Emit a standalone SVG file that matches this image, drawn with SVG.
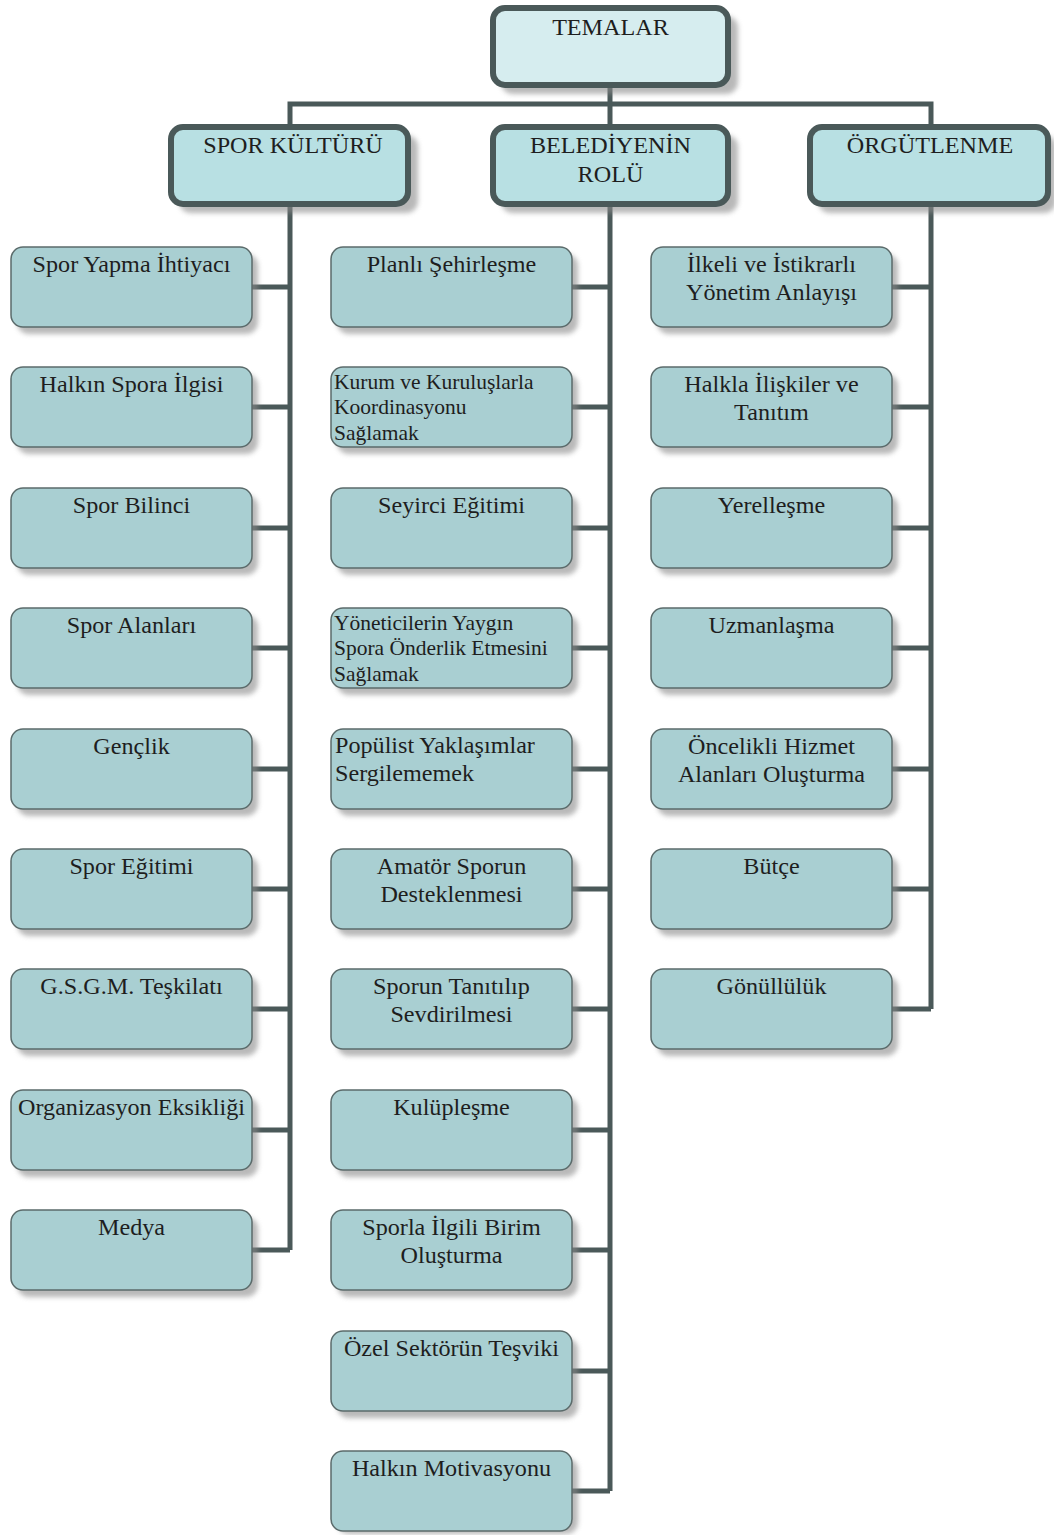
<svg xmlns="http://www.w3.org/2000/svg" width="1054" height="1535" viewBox="0 0 1054 1535">
<style>
.t{font-family:"Liberation Serif","Times New Roman",serif;font-size:23px;fill:#1e1e1e;text-anchor:middle;transform-box:fill-box;transform-origin:center;transform:scaleX(1.05)}
.l{text-anchor:start;transform-origin:left center}
.s{font-size:20.5px}
.box{fill:#a9cfd2;stroke:#5b6b6b;stroke-width:1.5}
.hdr{fill:#b8e0e3;stroke:#4a5959;stroke-width:6}
.top{fill:#d6edef;stroke:#4a5959;stroke-width:6}
.sh{fill:#8a8a8a;opacity:0.6;filter:url(#blur)}
.c{fill:none;stroke:#4a5959;stroke-width:5}
</style>
<defs>
<filter id="blur" x="-10%" y="-20%" width="120%" height="140%"><feGaussianBlur stdDeviation="2.5"/></filter>
</defs>
<rect width="1054" height="1535" fill="#ffffff"/>
<g id="connectors">
<path class="c" d="M610,86 V127 M290,127 V104 H931 V127"/>
<path class="c" d="M290,204 V1250 M610,204 V1491 M931,204 V1009"/>
<path class="c" d="M252,287 H290 M252,407 H290 M252,528 H290 M252,648 H290 M252,769 H290 M252,889 H290 M252,1009 H290 M252,1130 H290 M252,1250 H290"/>
<path class="c" d="M572,287 H610 M572,407 H610 M572,528 H610 M572,648 H610 M572,769 H610 M572,889 H610 M572,1009 H610 M572,1130 H610 M572,1250 H610 M572,1371 H610 M572,1491 H610"/>
<path class="c" d="M892,287 H931 M892,407 H931 M892,528 H931 M892,648 H931 M892,769 H931 M892,889 H931 M892,1009 H931"/>
</g>
<g id="temalar"><rect class="sh" x="501" y="16" width="237" height="78" rx="12"/><rect class="top" x="493" y="8" width="235" height="77" rx="12"/><text class="t" x="610.5" y="35">TEMALAR</text></g>
<g id="spor-kulturu"><rect class="sh" x="179" y="135" width="239" height="78" rx="12"/><rect class="hdr" x="171" y="127" width="237" height="77" rx="12"/><text class="t" x="293" y="153">SPOR KÜLTÜRÜ</text></g>
<g id="belediyenin-rolu"><rect class="sh" x="501" y="135" width="237" height="78" rx="12"/><rect class="hdr" x="493" y="127" width="235" height="77" rx="12"/><text class="t" x="610.5" y="153">BELEDİYENİN</text><text class="t" x="610.5" y="182">ROLÜ</text></g>
<g id="orgutlenme"><rect class="sh" x="818" y="135" width="238" height="78" rx="12"/><rect class="hdr" x="810" y="127" width="238" height="77" rx="12"/><text class="t" x="930" y="153">ÖRGÜTLENME</text></g>

<g id="l1"><rect class="sh" x="17" y="254" width="241" height="80" rx="12"/><rect class="box" x="11" y="247" width="241" height="80" rx="12"/><text class="t" x="131.5" y="272">Spor Yapma İhtiyacı</text></g>
<g id="l2"><rect class="sh" x="17" y="374" width="241" height="80" rx="12"/><rect class="box" x="11" y="367" width="241" height="80" rx="12"/><text class="t" x="131.5" y="392">Halkın Spora İlgisi</text></g>
<g id="l3"><rect class="sh" x="17" y="495" width="241" height="80" rx="12"/><rect class="box" x="11" y="488" width="241" height="80" rx="12"/><text class="t" x="131.5" y="513">Spor Bilinci</text></g>
<g id="l4"><rect class="sh" x="17" y="615" width="241" height="80" rx="12"/><rect class="box" x="11" y="608" width="241" height="80" rx="12"/><text class="t" x="131.5" y="633">Spor Alanları</text></g>
<g id="l5"><rect class="sh" x="17" y="736" width="241" height="80" rx="12"/><rect class="box" x="11" y="729" width="241" height="80" rx="12"/><text class="t" x="131.5" y="754">Gençlik</text></g>
<g id="l6"><rect class="sh" x="17" y="856" width="241" height="80" rx="12"/><rect class="box" x="11" y="849" width="241" height="80" rx="12"/><text class="t" x="131.5" y="874">Spor Eğitimi</text></g>
<g id="l7"><rect class="sh" x="17" y="976" width="241" height="80" rx="12"/><rect class="box" x="11" y="969" width="241" height="80" rx="12"/><text class="t" x="131.5" y="994">G.S.G.M. Teşkilatı</text></g>
<g id="l8"><rect class="sh" x="17" y="1097" width="241" height="80" rx="12"/><rect class="box" x="11" y="1090" width="241" height="80" rx="12"/><text class="t" x="131.5" y="1115">Organizasyon Eksikliği</text></g>
<g id="l9"><rect class="sh" x="17" y="1217" width="241" height="80" rx="12"/><rect class="box" x="11" y="1210" width="241" height="80" rx="12"/><text class="t" x="131.5" y="1235">Medya</text></g>

<g id="m1"><rect class="sh" x="337" y="254" width="241" height="80" rx="12"/><rect class="box" x="331" y="247" width="241" height="80" rx="12"/><text class="t" x="451.5" y="272">Planlı Şehirleşme</text></g>
<g id="m2"><rect class="sh" x="337" y="374" width="241" height="80" rx="12"/><rect class="box" x="331" y="367" width="241" height="80" rx="12"/><text class="t l s" x="334" y="389">Kurum ve Kuruluşlarla</text><text class="t l s" x="334" y="414">Koordinasyonu</text><text class="t l s" x="334" y="440">Sağlamak</text></g>
<g id="m3"><rect class="sh" x="337" y="495" width="241" height="80" rx="12"/><rect class="box" x="331" y="488" width="241" height="80" rx="12"/><text class="t" x="451.5" y="513">Seyirci Eğitimi</text></g>
<g id="m4"><rect class="sh" x="337" y="615" width="241" height="80" rx="12"/><rect class="box" x="331" y="608" width="241" height="80" rx="12"/><text class="t l s" x="334" y="630">Yöneticilerin Yaygın</text><text class="t l s" x="334" y="655">Spora Önderlik Etmesini</text><text class="t l s" x="334" y="681">Sağlamak</text></g>
<g id="m5"><rect class="sh" x="337" y="736" width="241" height="80" rx="12"/><rect class="box" x="331" y="729" width="241" height="80" rx="12"/><text class="t l" x="335" y="753">Popülist Yaklaşımlar</text><text class="t l" x="335" y="781">Sergilememek</text></g>
<g id="m6"><rect class="sh" x="337" y="856" width="241" height="80" rx="12"/><rect class="box" x="331" y="849" width="241" height="80" rx="12"/><text class="t" x="451.5" y="874">Amatör Sporun</text><text class="t" x="451.5" y="902">Desteklenmesi</text></g>
<g id="m7"><rect class="sh" x="337" y="976" width="241" height="80" rx="12"/><rect class="box" x="331" y="969" width="241" height="80" rx="12"/><text class="t" x="451.5" y="994">Sporun Tanıtılıp</text><text class="t" x="451.5" y="1022">Sevdirilmesi</text></g>
<g id="m8"><rect class="sh" x="337" y="1097" width="241" height="80" rx="12"/><rect class="box" x="331" y="1090" width="241" height="80" rx="12"/><text class="t" x="451.5" y="1115">Kulüpleşme</text></g>
<g id="m9"><rect class="sh" x="337" y="1217" width="241" height="80" rx="12"/><rect class="box" x="331" y="1210" width="241" height="80" rx="12"/><text class="t" x="451.5" y="1235">Sporla İlgili Birim</text><text class="t" x="451.5" y="1263">Oluşturma</text></g>
<g id="m10"><rect class="sh" x="337" y="1338" width="241" height="80" rx="12"/><rect class="box" x="331" y="1331" width="241" height="80" rx="12"/><text class="t" x="451.5" y="1356">Özel Sektörün Teşviki</text></g>
<g id="m11"><rect class="sh" x="337" y="1458" width="241" height="76" rx="12"/><rect class="box" x="331" y="1451" width="241" height="80" rx="12"/><text class="t" x="451.5" y="1476">Halkın Motivasyonu</text></g>

<g id="r1"><rect class="sh" x="657" y="254" width="241" height="80" rx="12"/><rect class="box" x="651" y="247" width="241" height="80" rx="12"/><text class="t" x="771.5" y="272">İlkeli ve İstikrarlı</text><text class="t" x="771.5" y="300">Yönetim Anlayışı</text></g>
<g id="r2"><rect class="sh" x="657" y="374" width="241" height="80" rx="12"/><rect class="box" x="651" y="367" width="241" height="80" rx="12"/><text class="t" x="771.5" y="392">Halkla İlişkiler ve</text><text class="t" x="771.5" y="420">Tanıtım</text></g>
<g id="r3"><rect class="sh" x="657" y="495" width="241" height="80" rx="12"/><rect class="box" x="651" y="488" width="241" height="80" rx="12"/><text class="t" x="771.5" y="513">Yerelleşme</text></g>
<g id="r4"><rect class="sh" x="657" y="615" width="241" height="80" rx="12"/><rect class="box" x="651" y="608" width="241" height="80" rx="12"/><text class="t" x="771.5" y="633">Uzmanlaşma</text></g>
<g id="r5"><rect class="sh" x="657" y="736" width="241" height="80" rx="12"/><rect class="box" x="651" y="729" width="241" height="80" rx="12"/><text class="t" x="771.5" y="754">Öncelikli Hizmet</text><text class="t" x="771.5" y="782">Alanları Oluşturma</text></g>
<g id="r6"><rect class="sh" x="657" y="856" width="241" height="80" rx="12"/><rect class="box" x="651" y="849" width="241" height="80" rx="12"/><text class="t" x="771.5" y="874">Bütçe</text></g>
<g id="r7"><rect class="sh" x="657" y="976" width="241" height="80" rx="12"/><rect class="box" x="651" y="969" width="241" height="80" rx="12"/><text class="t" x="771.5" y="994">Gönüllülük</text></g>
</svg>
